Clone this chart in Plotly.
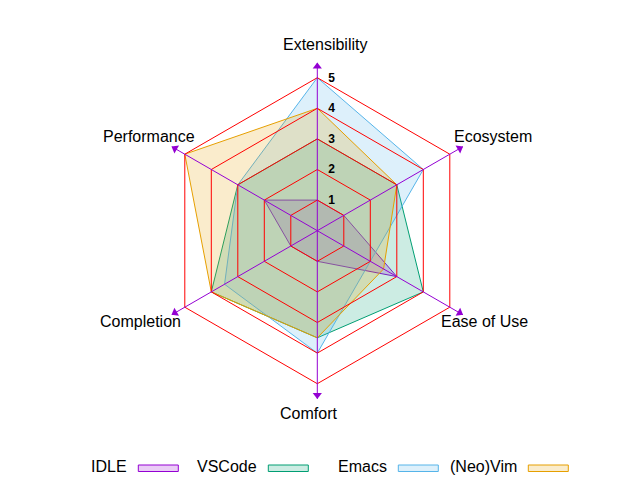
import plotly.graph_objects as go

# ---- data ----
categories = ["Extensibility", "Ecosystem", "Ease of Use", "Comfort", "Completion", "Performance"]
series_names = ["IDLE", "VSCode", "Emacs", "(Neo)Vim"]
idle = [1, 1, 3, 1, 1, 2]
vscode = [3, 3, 4, 3.5, 4, 3]
emacs = [5, 4, 2, 4, 3.5, 3]
neovim = [4, 3, 2.5, 3.5, 4, 5]
ring_levels = [1, 2, 3, 4, 5]
tick_labels = ["1", "2", "3", "4", "5"]

# ---- style ----
colors = ["#9400d3", "#009e73", "#56b4e9", "#e69f00"]
ring_color = "#ff0000"
axis_color = "#9400d3"
FONT = "Liberation Sans"
R_MAX = 5.5
W, H = 640, 480


def rgba(hex_color, a):
    h = hex_color.lstrip("#")
    r, g, b = int(h[0:2], 16), int(h[2:4], 16), int(h[4:6], 16)
    return f"rgba({r},{g},{b},{a})"


fig = go.Figure()
closed_theta = categories + [categories[0]]

for name, vals, col in zip(series_names, [idle, vscode, emacs, neovim], colors):
    fig.add_trace(go.Scatterpolar(
        r=vals + [vals[0]], theta=closed_theta, name=name,
        mode="lines", fill="toself", fillcolor=rgba(col, 0.2),
        line=dict(color=col, width=1), showlegend=False,
    ))

for lvl in ring_levels:
    fig.add_trace(go.Scatterpolar(
        r=[lvl] * len(closed_theta), theta=closed_theta, mode="lines",
        line=dict(color=ring_color, width=1), showlegend=False, hoverinfo="skip",
    ))

for cat in categories:
    fig.add_trace(go.Scatterpolar(
        r=[0, R_MAX], theta=[cat, cat], mode="lines",
        line=dict(color=axis_color, width=1), showlegend=False, hoverinfo="skip",
    ))

step = 360 / len(categories)
fig.add_trace(go.Scatterpolar(
    r=[R_MAX - 0.13] * len(categories), theta=categories, mode="markers",
    marker=dict(symbol="triangle-up", size=8, color=axis_color,
                angle=[step * i for i in range(len(categories))],
                line=dict(width=0)),
    showlegend=False, hoverinfo="skip",
))

# axis label positions (pixel centres)
label_pos = {
    "Extensibility": (325, 44),
    "Ecosystem": (493, 136),
    "Ease of Use": (484.5, 321.5),
    "Comfort": (308.5, 413),
    "Completion": (140.5, 321.5),
    "Performance": (149, 136),
}
annotations = []
for cat in categories:
    px, py = label_pos[cat]
    annotations.append(dict(
        x=px / W, y=1 - py / H, xref="paper", yref="paper", text=cat,
        showarrow=False, xanchor="center", yanchor="middle",
        font=dict(family=FONT, size=16, color="black"),
    ))

# legend (text left of a sample box, gnuplot style)
shapes = []
box_lefts = [138.3, 268.3, 398.3, 528.3]
for name, col, bx in zip(series_names, colors, box_lefts):
    shapes.append(dict(
        type="rect", xref="paper", yref="paper",
        x0=bx / W, x1=(bx + 40) / W, y0=1 - 471.5 / H, y1=1 - 465 / H,
        line=dict(color=col, width=1), fillcolor=rgba(col, 0.2),
    ))
    annotations.append(dict(
        x=(bx - 9) / W, y=1 - 466 / H, xref="paper", yref="paper", text=name,
        showarrow=False, xanchor="right", yanchor="middle",
        font=dict(family=FONT, size=16, color="black"),
    ))

cx, cy, unit = 317.3, 230.7, 30.6
rad = R_MAX * unit
fig.update_layout(
    width=W, height=H,
    margin=dict(l=0, r=0, t=0, b=0),
    paper_bgcolor="white",
    polar=dict(
        domain=dict(x=[(cx - rad) / W, (cx + rad) / W],
                    y=[(H - cy - rad) / H, (H - cy + rad) / H]),
        bgcolor="rgba(0,0,0,0)",
        gridshape="linear",
        angularaxis=dict(type="category", categoryorder="array", categoryarray=categories,
                         rotation=90, direction="clockwise", showgrid=False,
                         showline=False, showticklabels=False, ticks=""),
        radialaxis=dict(range=[0, R_MAX], tickvals=ring_levels, ticktext=tick_labels,
                        showgrid=False, showline=False, angle=90, tickangle=90,
                        ticks="outside", ticklen=8, tickcolor="rgba(0,0,0,0)",
                        side="clockwise",
                        tickfont=dict(family=FONT, size=12, color="black", weight="bold")),
    ),
    annotations=annotations,
    shapes=shapes,
    showlegend=False,
)

fig.write_html("out.html")
